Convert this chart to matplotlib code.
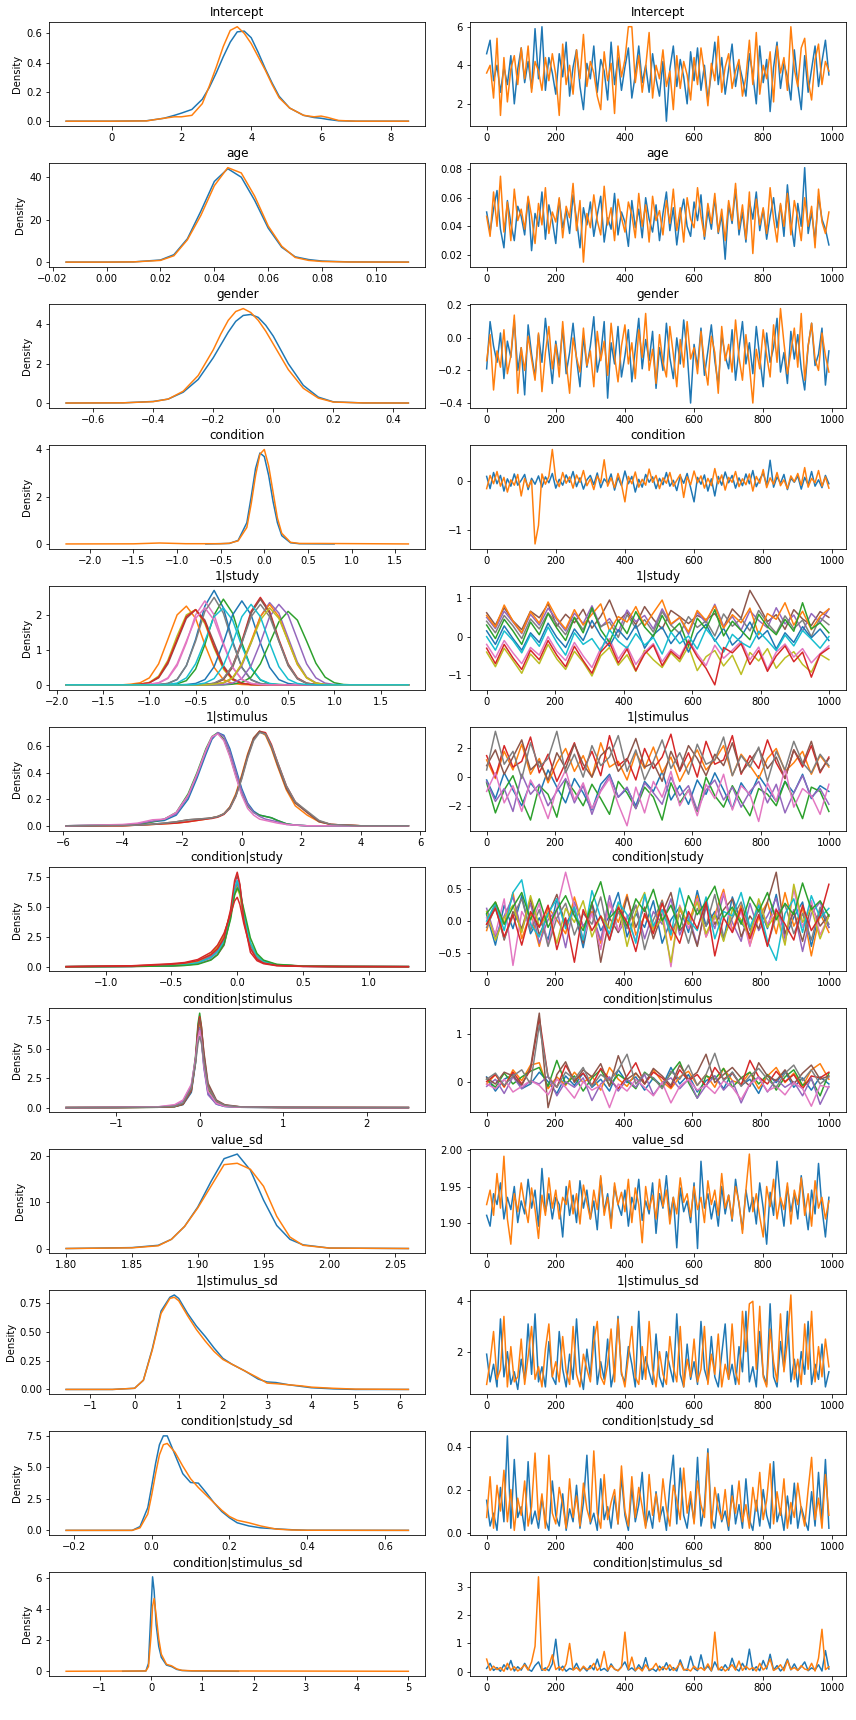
import numpy as np
import matplotlib
matplotlib.use("Agg")
import matplotlib.pyplot as plt
from matplotlib.ticker import MaxNLocator

# tab10 names
blue, orange, green, red, purple = "#1f77b4", "#ff7f0e", "#2ca02c", "#d62728", "#9467bd"
brown, pink, gray, olive, cyan = "#8c564b", "#e377c2", "#7f7f7f", "#bcbd22", "#17becf"

draws = np.arange(0, 1000, 10)      # thinned draw index, single parameters
draws_g = np.linspace(0, 999, 40)   # thinned draw index, grouped parameters

# ---------------- Intercept
int_kx = [-1.3, 0, 1, 1.5, 1.8, 2.0, 2.3, 2.6, 2.8, 3.0, 3.2, 3.4, 3.6, 3.8, 4.0, 4.2, 4.4, 4.6, 4.8, 5.1, 5.5, 5.8, 6.0, 6.2, 6.5, 7, 8.5]
int_kde_0 = [0, 0, 0.003, 0.02, 0.04, 0.055, 0.08, 0.15, 0.23, 0.33, 0.44, 0.54, 0.61, 0.615, 0.57, 0.47, 0.36, 0.26, 0.17, 0.09, 0.04, 0.025, 0.02, 0.012, 0.003, 0, 0]
int_kde_1 = [0, 0, 0.002, 0.02, 0.03, 0.03, 0.04, 0.12, 0.24, 0.37, 0.51, 0.62, 0.645, 0.60, 0.53, 0.44, 0.35, 0.25, 0.16, 0.09, 0.04, 0.03, 0.035, 0.025, 0.005, 0, 0]
int_tr_0 = [4.6, 5.3, 3.2, 4.0, 2.6, 3.9, 3.0, 4.5, 2.0, 3.8, 4.9, 3.1, 4.2, 2.8, 5.9, 3.3, 6.0, 2.7, 4.4, 3.6,
            2.5, 4.6, 3.4, 5.2, 2.4, 3.9, 4.8, 2.9, 1.7, 4.1, 3.3, 5.0, 2.6, 4.3, 3.7, 2.2, 5.2, 3.0, 4.4, 2.7,
            3.9, 4.9, 2.3, 3.5, 5.0, 3.1, 4.0, 2.6, 4.6, 3.3, 2.4, 4.2, 1.1, 3.8, 5.0, 2.9, 4.3, 3.4, 2.0, 4.7,
            3.2, 4.9, 2.7, 4.0, 2.2, 3.6, 5.2, 3.0, 4.4, 2.5, 3.8, 5.1, 2.9, 4.1, 3.3, 2.4, 4.6, 3.5, 2.0, 5.0,
            3.1, 4.3, 1.6, 3.9, 5.2, 2.8, 4.1, 3.4, 2.2, 4.8, 3.0, 1.7, 4.5, 2.6, 3.8, 5.0, 2.9, 4.2, 5.3, 3.5]
int_tr_1 = [3.6, 4.0, 2.3, 5.4, 1.4, 4.4, 2.1, 3.8, 4.5, 3.0, 4.9, 3.3, 5.0, 2.6, 4.2, 3.7, 2.7, 4.4, 3.2, 4.6,
            3.5, 1.4, 5.1, 3.0, 4.0, 2.5, 4.8, 3.3, 5.6, 2.9, 4.2, 3.6, 2.4, 1.7, 4.7, 3.2, 4.1, 1.5, 5.0, 3.4,
            4.3, 6.0, 6.0, 3.1, 4.5, 2.6, 3.9, 5.7, 2.3, 4.0, 3.3, 4.8, 2.9, 3.7, 1.7, 4.5, 2.8, 4.2, 3.5, 2.2,
            4.4, 3.0, 4.9, 3.6, 1.9, 4.1, 3.2, 5.5, 2.6, 3.9, 4.6, 2.8, 3.7, 4.3, 2.4, 3.4, 5.3, 3.0, 5.7, 2.5,
            4.0, 3.3, 4.7, 2.1, 5.0, 3.6, 4.4, 2.7, 6.0, 3.8, 2.9, 4.9, 5.4, 3.2, 2.2, 4.3, 5.1, 3.0, 4.2, 3.7]

# ---------------- age
age_kx = [-0.015, 0.0, 0.01, 0.02, 0.025, 0.03, 0.035, 0.04, 0.045, 0.05, 0.055, 0.06, 0.065, 0.07, 0.075, 0.08, 0.09, 0.112]
age_kde_0 = [0, 0, 0.1, 1.0, 3.5, 11, 24, 38, 44, 40, 29, 16, 7, 2.5, 1.2, 0.5, 0.1, 0]
age_kde_1 = [0, 0, 0.1, 0.8, 3.0, 10.5, 22, 36, 44.5, 42, 31, 17, 7.5, 2.2, 0.8, 0.3, 0.05, 0]
age_tr_0 = [0.050, 0.036, 0.052, 0.065, 0.038, 0.025, 0.058, 0.042, 0.030, 0.054, 0.047, 0.034, 0.060, 0.023, 0.049, 0.040, 0.064, 0.031, 0.055, 0.044,
            0.028, 0.059, 0.039, 0.051, 0.035, 0.062, 0.045, 0.025, 0.053, 0.041, 0.057, 0.033, 0.048, 0.061, 0.029, 0.046, 0.038, 0.063, 0.034, 0.050,
            0.043, 0.026, 0.058, 0.039, 0.052, 0.032, 0.060, 0.045, 0.036, 0.055, 0.030, 0.049, 0.064, 0.037, 0.053, 0.027, 0.047, 0.059, 0.040, 0.033,
            0.057, 0.044, 0.062, 0.031, 0.051, 0.038, 0.060, 0.035, 0.048, 0.017, 0.055, 0.042, 0.066, 0.034, 0.050, 0.029, 0.058, 0.045, 0.064, 0.037,
            0.052, 0.031, 0.047, 0.060, 0.039, 0.055, 0.033, 0.069, 0.043, 0.026, 0.056, 0.040, 0.081, 0.035, 0.050, 0.030, 0.061, 0.045, 0.038, 0.027]
age_tr_1 = [0.047, 0.033, 0.064, 0.040, 0.075, 0.036, 0.057, 0.030, 0.066, 0.044, 0.052, 0.038, 0.061, 0.047, 0.028, 0.056, 0.041, 0.067, 0.035, 0.050,
            0.043, 0.060, 0.032, 0.054, 0.046, 0.070, 0.037, 0.058, 0.015, 0.049, 0.039, 0.062, 0.044, 0.034, 0.068, 0.041, 0.053, 0.030, 0.059, 0.046,
            0.036, 0.057, 0.048, 0.032, 0.063, 0.040, 0.055, 0.029, 0.061, 0.044, 0.051, 0.034, 0.058, 0.042, 0.066, 0.037, 0.053, 0.029, 0.060, 0.045,
            0.039, 0.067, 0.047, 0.033, 0.056, 0.042, 0.063, 0.036, 0.052, 0.030, 0.058, 0.044, 0.070, 0.038, 0.055, 0.031, 0.064, 0.021, 0.059, 0.041,
            0.053, 0.035, 0.067, 0.045, 0.029, 0.056, 0.040, 0.063, 0.034, 0.058, 0.046, 0.030, 0.060, 0.040, 0.054, 0.025, 0.066, 0.043, 0.035, 0.050]

# ---------------- gender
gen_kx = [-0.69, -0.5, -0.4, -0.35, -0.3, -0.25, -0.2, -0.175, -0.15, -0.125, -0.1, -0.075, -0.05, -0.025, 0.0, 0.025, 0.05, 0.1, 0.15, 0.2, 0.3, 0.45]
gen_kde_0 = [0, 0.01, 0.08, 0.2, 0.55, 1.2, 2.3, 2.95, 3.6, 4.15, 4.45, 4.5, 4.35, 3.95, 3.4, 2.7, 2.0, 0.9, 0.3, 0.06, 0.005, 0]
gen_kde_1 = [0, 0.01, 0.07, 0.2, 0.6, 1.4, 2.7, 3.5, 4.2, 4.65, 4.8, 4.6, 4.2, 3.65, 3.0, 2.35, 1.7, 0.75, 0.25, 0.05, 0.005, 0]
gen_tr_0 = [-0.19, 0.10, -0.05, -0.15, 0.03, -0.25, -0.02, -0.12, 0.11, -0.20, -0.06, -0.35, 0.08, -0.10, -0.24, 0.02, -0.15, 0.12, -0.08, -0.28,
            -0.02, -0.17, 0.06, -0.22, -0.09, 0.09, -0.13, -0.30, 0.01, -0.18, -0.05, 0.13, -0.21, -0.10, 0.10, -0.37, -0.03, -0.16, 0.07, -0.24,
            -0.11, 0.05, -0.27, -0.07, 0.12, -0.19, -0.01, -0.14, 0.04, -0.31, -0.06, -0.20, 0.09, -0.12, -0.25, 0.00, -0.16, 0.11, -0.09, -0.40,
            -0.04, -0.18, 0.06, -0.23, -0.08, 0.08, -0.14, -0.29, 0.02, -0.11, -0.19, 0.05, -0.26, -0.07, 0.10, -0.16, -0.03, -0.22, 0.07, -0.12,
            -0.30, 0.03, -0.15, -0.06, 0.12, -0.21, -0.09, -0.28, 0.04, -0.13, 0.02, -0.19, -0.32, -0.05, 0.09, -0.17, -0.10, 0.06, -0.29, -0.08]
gen_tr_1 = [-0.14, 0.02, -0.32, -0.08, -0.18, 0.05, -0.22, -0.11, 0.14, -0.34, -0.06, -0.20, 0.01, -0.13, -0.26, 0.03, -0.33, -0.09, 0.07, -0.19,
            -0.04, -0.24, 0.10, -0.15, -0.34, 0.00, -0.12, -0.21, 0.06, -0.17, -0.08, -0.30, 0.04, -0.14, -0.02, -0.23, 0.09, -0.11, -0.27, -0.05,
            0.08, -0.16, -0.03, -0.25, 0.05, -0.12, 0.15, -0.20, -0.07, -0.28, 0.02, -0.15, -0.24, 0.07, -0.10, -0.30, -0.01, -0.18, 0.10, -0.13,
            -0.06, -0.22, 0.04, -0.16, -0.29, 0.01, -0.09, -0.34, 0.07, -0.14, -0.04, -0.21, 0.11, -0.12, -0.26, 0.02, -0.17, -0.40, -0.07, -0.19,
            0.05, -0.11, -0.24, 0.08, -0.15, 0.18, -0.03, -0.22, -0.09, 0.06, -0.18, 0.15, -0.26, -0.05, 0.09, -0.13, -0.20, 0.03, -0.11, -0.21]

# ---------------- condition
cond_kx_0 = [-0.67, -0.4, -0.3, -0.2, -0.15, -0.1, -0.05, 0.0, 0.05, 0.1, 0.15, 0.2, 0.3, 0.4, 0.8]
cond_kde_0 = [0, 0.02, 0.15, 0.9, 2.0, 3.2, 3.85, 3.7, 2.9, 1.8, 0.9, 0.35, 0.05, 0.01, 0]
cond_kx_1 = [-2.27, -1.5, -1.2, -0.9, -0.5, -0.4, -0.3, -0.2, -0.15, -0.1, -0.05, 0.0, 0.05, 0.1, 0.15, 0.2, 0.3, 0.4, 0.65, 1.65]
cond_kde_1 = [0, 0.005, 0.04, 0.01, 0.01, 0.03, 0.13, 0.7, 1.7, 2.9, 3.8, 4.0, 3.3, 2.2, 1.1, 0.45, 0.07, 0.02, 0.02, 0]
cond_tr_0 = [0.10, -0.15, 0.18, -0.05, 0.12, -0.20, 0.05, -0.10, 0.15, -0.08, 0.02, 0.14, -0.17, 0.06, -0.06, 0.11, -0.12, 0.09, -0.03, 0.16,
             -0.14, 0.04, -0.08, 0.13, -0.02, 0.20, -0.11, 0.07, -0.16, 0.03, 0.12, -0.07, 0.17, -0.13, 0.05, -0.04, 0.15, -0.18, 0.08, -0.09,
             0.21, -0.05, 0.10, -0.22, 0.04, -0.12, 0.14, -0.02, 0.09, -0.15, 0.06, -0.07, 0.18, -0.10, 0.02, -0.19, 0.11, -0.04, 0.16, -0.13,
             -0.42, 0.08, -0.06, 0.13, -0.20, 0.05, -0.30, 0.10, -0.08, 0.19, -0.03, 0.12, -0.14, 0.07, -0.09, 0.15, -0.05, 0.22, -0.11, 0.04,
             0.17, -0.08, 0.43, -0.12, 0.09, -0.04, 0.14, -0.17, 0.06, -0.02, 0.11, -0.16, 0.08, -0.07, 0.20, -0.10, 0.03, -0.13, 0.12, -0.05]
cond_tr_1 = [-0.15, 0.12, -0.05, 0.20, -0.10, 0.08, -0.22, 0.03, -0.08, 0.14, -0.30, 0.06, -0.12, 0.02, -1.28, -0.90, 0.15, -0.06, 0.10, 0.65,
             0.04, -0.11, 0.18, -0.04, 0.09, -0.14, 0.13, -0.02, 0.22, -0.09, 0.05, -0.17, 0.11, -0.03, 0.44, -0.10, 0.07, -0.13, 0.16, -0.06,
             -0.42, 0.10, -0.05, 0.19, -0.12, 0.04, -0.08, 0.25, -0.02, 0.12, -0.15, 0.07, -0.04, 0.18, -0.10, 0.02, 0.14, -0.33, 0.09, -0.07,
             0.21, -0.03, 0.11, -0.14, 0.06, -0.09, 0.26, -0.05, 0.13, -0.18, 0.08, -0.02, 0.20, -0.11, 0.05, -0.07, 0.15, -0.20, 0.10, -0.04,
             0.24, -0.13, 0.07, -0.06, 0.18, -0.09, 0.03, -0.15, 0.11, -0.01, 0.16, -0.08, 0.28, -0.12, 0.06, -0.03, 0.22, -0.10, 0.09, -0.14]

# ---------------- 1|study (10 levels x 2 chains in the density, thinned levels in the trace)
study_kx = np.round(np.arange(-1.9, 1.85, 0.1), 2)
study_kde = [
    [0] * 10 + [0.01, 0.04, 0.15, 0.55, 1.3, 2.25, 2.7, 2.2, 1.25, 0.5, 0.15, 0.04, 0.01] + [0] * 15,
    [0] * 7 + [0.02, 0.06, 0.2, 0.6, 1.3, 2.0, 2.25, 1.9, 1.15, 0.5, 0.15, 0.04, 0.01] + [0] * 18,
    [0] * 11 + [0.01, 0.03, 0.12, 0.45, 1.15, 2.0, 2.45, 2.05, 1.2, 0.48, 0.14, 0.03, 0.01] + [0] * 14,
    [0] * 15 + [0.01, 0.04, 0.16, 0.55, 1.25, 2.1, 2.5, 2.1, 1.3, 0.6, 0.2, 0.05, 0.01] + [0] * 10,
    [0] * 16 + [0.01, 0.05, 0.18, 0.55, 1.2, 1.95, 2.35, 2.05, 1.35, 0.65, 0.22, 0.06, 0.01] + [0] * 9,
    [0] * 8 + [0.02, 0.06, 0.2, 0.6, 1.25, 1.9, 2.15, 1.85, 1.2, 0.55, 0.18, 0.05, 0.01] + [0] * 17,
    [0] * 9 + [0.01, 0.05, 0.18, 0.55, 1.2, 2.0, 2.4, 2.0, 1.2, 0.5, 0.15, 0.04, 0.01] + [0] * 16,
    [0] * 10 + [0.01, 0.04, 0.16, 0.55, 1.25, 2.1, 2.5, 2.05, 1.2, 0.5, 0.14, 0.03, 0.01] + [0] * 15,
    [0] * 8 + [0.02, 0.07, 0.25, 0.7, 1.4, 2.0, 2.15, 1.75, 1.05, 0.45, 0.14, 0.04, 0.01] + [0] * 17,
    [0] * 11 + [0.01, 0.05, 0.2, 0.6, 1.25, 1.95, 2.2, 1.85, 1.1, 0.48, 0.15, 0.04, 0.01] + [0] * 14,
    [0] * 13 + [0.01, 0.04, 0.15, 0.52, 1.2, 2.0, 2.4, 2.0, 1.2, 0.5, 0.15, 0.04, 0.01] + [0] * 12,
    [0] * 16 + [0.02, 0.06, 0.2, 0.6, 1.25, 1.95, 2.3, 1.95, 1.25, 0.58, 0.2, 0.05, 0.01] + [0] * 9,
    [0] * 18 + [0.02, 0.07, 0.22, 0.6, 1.2, 1.8, 2.1, 1.85, 1.25, 0.62, 0.22, 0.06, 0.01] + [0] * 7,
    [0] * 8 + [0.02, 0.06, 0.22, 0.65, 1.3, 1.95, 2.15, 1.8, 1.1, 0.5, 0.16, 0.04, 0.01] + [0] * 17,
    [0] * 17 + [0.01, 0.05, 0.18, 0.55, 1.2, 1.95, 2.3, 2.0, 1.3, 0.6, 0.2, 0.05, 0.01] + [0] * 8,
    [0] * 15 + [0.01, 0.04, 0.15, 0.5, 1.2, 2.05, 2.45, 2.05, 1.25, 0.55, 0.17, 0.04, 0.01] + [0] * 10,
    [0] * 9 + [0.02, 0.06, 0.2, 0.6, 1.25, 1.9, 2.2, 1.85, 1.15, 0.5, 0.16, 0.04, 0.01] + [0] * 16,
    [0] * 15 + [0.01, 0.05, 0.18, 0.55, 1.2, 1.95, 2.3, 1.95, 1.25, 0.58, 0.18, 0.05, 0.01] + [0] * 10,
    [0] * 16 + [0.02, 0.06, 0.2, 0.6, 1.2, 1.85, 2.2, 1.9, 1.25, 0.6, 0.2, 0.05, 0.01] + [0] * 9,
    [0] * 14 + [0.01, 0.05, 0.18, 0.55, 1.2, 1.95, 2.3, 1.95, 1.2, 0.52, 0.16, 0.04, 0.01] + [0] * 11,
]
study_kde_colors = [blue, orange, green, red, purple, brown, pink, gray, olive, cyan] * 2
study_tr = [
    [0.62, 0.30, 0.75, 0.41, 0.18, 0.66, 0.49, 0.85, 0.27, 0.58, 0.36, 0.71, 0.22, 0.53, 0.95, 0.40, 0.63, 0.31, 0.78, 0.45,
     0.20, 0.68, 0.52, 0.34, 0.55, 0.44, 0.60, 0.25, 0.72, 0.48, 1.20, 0.81, 0.39, 0.57, 0.19, 0.70, 0.46, 0.29, 0.65, 0.50],
    [0.50, 0.21, 0.66, 0.38, 0.08, 0.58, 0.30, 0.74, 0.44, 0.15, 0.61, 0.34, 0.80, 0.25, 0.47, 0.12, 0.69, 0.39, 0.55, 0.20,
     0.72, 0.31, 0.49, 0.06, 0.63, 0.36, 0.84, 0.27, 0.52, 0.17, 0.67, 0.42, 0.23, 0.75, 0.33, 0.56, 0.14, 0.60, 0.37, 0.71],
    [0.40, 0.10, 0.55, 0.28, -0.05, 0.46, 0.20, 0.62, 0.33, 0.05, 0.50, 0.18, 0.70, 0.26, 0.38, -0.02, 0.57, 0.22, 0.44, 0.12,
     0.65, 0.30, 0.08, 0.52, 0.24, 0.41, 0.02, 0.59, 0.27, 0.47, 0.15, 0.68, 0.35, 0.09, 0.54, 0.21, 0.43, 0.00, 0.49, 0.31],
    [-0.40, -0.78, -0.30, -0.62, -0.95, -0.45, -0.70, -0.20, -0.58, -0.85, -0.38, -0.66, -1.02, -0.50, -0.28, -0.74, -0.47, -0.90, -0.35, -0.60,
     -0.80, -0.42, -0.65, -0.25, -0.88, -0.52, -0.36, -0.76, -0.48, -0.98, -0.41, -0.63, -0.31, -0.82, -0.55, -0.39, -0.72, -0.92, -0.46, -0.60],
    [-0.20, -0.55, -0.10, -0.42, -0.70, -0.28, -0.48, 0.00, -0.38, -0.62, -0.15, -0.50, -0.80, -0.30, -0.05, -0.58, -0.25, -0.72, -0.40, -0.18,
     -0.65, -0.33, -0.52, -0.08, -0.45, -0.75, -0.22, -0.56, -0.35, -0.12, -0.60, -0.27, -0.85, -0.40, -0.19, -0.53, -0.31, -0.68, -0.44, -0.24],
    [0.15, -0.20, 0.28, -0.05, -0.35, 0.10, -0.15, 0.35, -0.02, -0.28, 0.20, -0.10, 0.42, 0.02, -0.25, 0.18, -0.08, 0.30, -0.30, 0.05,
     0.25, -0.18, 0.12, -0.40, 0.08, 0.32, -0.12, 0.22, -0.22, 0.00, 0.38, -0.06, 0.16, -0.32, 0.10, -0.15, 0.26, -0.03, 0.20, -0.10],
    [0.55, 0.25, 0.82, 0.40, 0.10, 0.65, 0.35, 0.90, 0.48, 0.20, 0.70, 0.30, 0.58, 0.85, 0.15, 0.52, 0.38, 0.78, 0.28, 0.62,
     0.95, 0.33, 0.50, 0.12, 0.68, 0.42, 0.80, 0.22, 0.57, 0.36, 0.74, 0.05, 0.60, 0.45, 0.88, 0.30, 0.66, 0.18, 0.53, 0.72],
    [0.30, -0.05, 0.45, 0.15, -0.20, 0.38, 0.05, 0.60, 0.22, -0.10, 0.50, 0.10, 0.75, 0.18, -0.15, 0.42, 0.08, 0.65, 0.25, 0.00,
     0.55, 0.12, 0.35, -0.25, 0.48, 0.20, 0.70, 0.02, 0.40, 0.16, -0.08, 0.58, 0.26, 0.05, 0.45, 0.14, 0.88, 0.20, 0.36, 0.10],
    [0.00, -0.35, 0.15, -0.10, -0.42, 0.05, -0.25, 0.25, -0.15, -0.48, 0.10, -0.20, -0.05, -0.38, 0.18, -0.12, -0.30, 0.08, -0.22, -0.02,
     -0.45, 0.12, -0.18, 0.02, -0.32, 0.20, -0.08, -0.40, 0.06, -0.15, -0.28, 0.14, -0.10, -0.36, 0.04, -0.24, 0.16, -0.06, -0.30, 0.00],
    [-0.30, -0.70, -0.20, -0.55, -0.85, -0.35, -0.60, -0.10, -0.48, -0.78, -0.25, -0.62, -0.95, -0.40, -0.15, -0.68, -0.32, -0.88, -0.45, -0.22,
     -0.75, -0.38, -0.58, -0.12, -0.52, -0.82, -1.25, -0.28, -0.42, -0.18, -0.72, -0.36, -0.90, -0.50, -0.24, -0.65, -0.40, -1.05, -0.46, -0.30],
]
study_tr_colors = [brown, purple, gray, olive, pink, blue, orange, green, cyan, red]

# ---------------- 1|stimulus
stim_kx = [-5.9, -4.0, -3.5, -3.0, -2.6, -2.2, -1.8, -1.5, -1.2, -1.0, -0.8, -0.6, -0.4, -0.2, 0.0,
           0.2, 0.4, 0.6, 0.8, 1.0, 1.2, 1.5, 1.8, 2.2, 2.6, 3.0, 4.0, 5.6]
stim_kde = [
    [0, 0.005, 0.01, 0.03, 0.04, 0.08, 0.2, 0.36, 0.54, 0.65, 0.70, 0.68, 0.58, 0.43, 0.28, 0.17, 0.11, 0.08, 0.07, 0.06, 0.04, 0.015, 0.005, 0, 0, 0, 0, 0],
    [0, 0, 0.005, 0.01, 0.015, 0.02, 0.03, 0.04, 0.05, 0.06, 0.07, 0.09, 0.14, 0.24, 0.38, 0.54, 0.66, 0.71, 0.68, 0.58, 0.45, 0.27, 0.15, 0.08, 0.03, 0.01, 0, 0],
    [0, 0.005, 0.01, 0.03, 0.05, 0.1, 0.24, 0.4, 0.58, 0.67, 0.70, 0.65, 0.53, 0.38, 0.24, 0.15, 0.1, 0.08, 0.07, 0.06, 0.04, 0.015, 0.005, 0, 0, 0, 0, 0],
    [0, 0, 0.005, 0.01, 0.015, 0.02, 0.03, 0.04, 0.05, 0.055, 0.065, 0.085, 0.13, 0.22, 0.36, 0.52, 0.65, 0.71, 0.70, 0.61, 0.48, 0.30, 0.18, 0.1, 0.035, 0.01, 0, 0],
    [0, 0.005, 0.015, 0.035, 0.05, 0.09, 0.22, 0.38, 0.56, 0.66, 0.70, 0.67, 0.56, 0.41, 0.26, 0.16, 0.1, 0.07, 0.05, 0.04, 0.03, 0.01, 0.005, 0, 0, 0, 0, 0],
    [0, 0.002, 0.005, 0.012, 0.02, 0.03, 0.045, 0.05, 0.055, 0.06, 0.07, 0.09, 0.14, 0.23, 0.37, 0.53, 0.66, 0.71, 0.69, 0.59, 0.46, 0.28, 0.17, 0.1, 0.03, 0.01, 0, 0],
    [0, 0.01, 0.02, 0.045, 0.05, 0.1, 0.23, 0.39, 0.57, 0.67, 0.69, 0.64, 0.52, 0.37, 0.23, 0.13, 0.08, 0.05, 0.04, 0.03, 0.02, 0.01, 0.005, 0, 0, 0, 0, 0],
    [0, 0.002, 0.005, 0.012, 0.02, 0.03, 0.045, 0.05, 0.055, 0.06, 0.07, 0.09, 0.13, 0.22, 0.35, 0.51, 0.64, 0.70, 0.69, 0.60, 0.48, 0.30, 0.18, 0.11, 0.04, 0.01, 0, 0],
]
stim_colors = [blue, orange, green, red, purple, brown, pink, gray]
stim_tr = [
    [-0.2, -1.5, 0.3, -0.9, -2.0, -0.4, -1.2, 0.5, -0.7, -1.8, -0.1, -1.1, -2.3, -0.5, 0.2, -1.4, -0.8, -2.0, -0.3, -1.0,
     0.4, -1.6, -0.6, -1.9, -0.2, -1.2, 0.3, -0.9, -2.2, -0.4, -1.3, 0.1, -0.8, -1.7, -0.3, -1.1, 0.2, -1.5, -0.6, -1.0],
    [1.2, -0.1, 1.8, 0.5, 2.3, 0.2, 1.3, -0.4, 1.0, 2.0, 0.4, 1.5, 0.0, 2.4, 0.7, 1.1, -0.2, 1.7, 0.6, 2.1,
     0.3, 1.4, -0.3, 0.9, 1.9, 0.5, 1.2, 2.2, 0.1, 1.6, 0.8, -0.1, 1.3, 2.0, 0.4, 1.0, 1.8, 0.2, 1.5, 0.7],
    [-0.4, -2.5, -0.9, 0.1, -1.6, -3.0, -0.6, -1.2, -2.8, -0.2, -1.0, -2.0, -0.5, -1.5, -2.6, -0.3, -1.1, -2.2, -0.7, -1.4,
     -3.0, -0.4, -1.8, -0.9, -2.4, 0.0, -1.3, -2.1, -0.6, -1.7, -2.7, -0.8, -1.2, -2.0, -0.3, -1.5, -2.9, -0.7, -1.0, -2.4],
    [1.5, 0.0, 2.2, 0.7, 1.1, 2.8, 0.3, 1.6, -0.3, 1.0, 2.4, 0.5, 1.8, 0.1, 2.9, 0.8, 1.3, -0.2, 2.0, 0.6,
     1.4, 3.0, 0.4, 1.7, 0.0, 2.5, 0.9, 1.2, 2.9, 0.2, 1.5, 0.6, 2.6, 1.0, -0.1, 1.9, 0.7, 2.2, 0.3, 1.4],
    [-0.3, -1.7, -0.8, -2.4, 0.2, -1.2, -0.5, -2.0, -1.0, -0.1, -1.8, -0.6, -2.6, -0.9, 0.1, -1.4, -0.7, -2.2, -0.4, -1.1,
     -1.9, 0.0, -1.3, -0.6, -2.3, -0.9, -0.2, -1.6, -0.7, -2.1, -1.0, -0.3, -1.8, -0.5, -2.5, -1.1, 0.1, -1.4, -0.8, -1.9],
    [0.8, 1.9, 0.2, 1.4, 2.6, 0.5, 1.1, -0.2, 1.7, 0.6, 2.3, 0.9, 0.0, 1.5, 2.1, 0.4, 1.2, 2.7, 0.7, 1.0,
     -0.3, 1.8, 0.5, 2.2, 1.3, 0.1, 1.6, 0.8, 2.4, 0.3, 1.1, 2.0, 0.6, 1.4, -0.1, 1.9, 0.9, 2.5, 0.4, 1.3],
    [-1.0, 0.3, -1.8, -0.6, -2.4, -0.2, -1.3, -2.9, -0.8, 0.5, -1.6, -0.4, -2.2, -1.0, -0.1, -1.9, -3.4, -0.7, -2.5, -0.3,
     -1.4, 0.4, -2.0, -0.9, -2.7, -0.5, -1.5, 0.2, -2.3, -0.6, -1.2, -3.1, -0.4, -1.7, 0.6, -2.1, -0.8, -1.3, -2.6, -0.5],
    [0.5, 3.2, 0.9, 1.8, -0.1, 2.4, 0.7, 1.3, 3.2, 0.3, 1.6, 0.0, 2.2, 0.8, 1.4, 2.9, 0.4, 1.9, -0.2, 1.1,
     2.6, 0.6, 1.7, 0.2, 2.3, 0.9, 1.2, 2.8, 0.1, 1.5, 0.7, 2.1, -0.3, 1.8, 0.5, 2.5, 1.0, 0.3, 1.6, 0.8],
]

# ---------------- condition|study
cs_kx = [-1.3, -0.8, -0.5, -0.4, -0.3, -0.2, -0.15, -0.1, -0.05, -0.02, 0.0, 0.02, 0.05, 0.1, 0.15, 0.2, 0.3, 0.5, 0.8, 1.3]
cs_kde = [
    [0, 0.03, 0.1, 0.18, 0.35, 0.8, 1.3, 2.2, 4.4, 6.7, 7.4, 6.5, 4.0, 1.6, 0.7, 0.35, 0.12, 0.03, 0.01, 0],
    [0, 0.04, 0.12, 0.22, 0.45, 1.0, 1.6, 2.6, 4.6, 6.4, 6.9, 6.2, 4.1, 1.8, 0.8, 0.4, 0.15, 0.04, 0.01, 0],
    [0, 0.03, 0.1, 0.2, 0.4, 0.9, 1.4, 2.4, 4.5, 6.5, 7.1, 6.3, 4.1, 1.7, 0.75, 0.38, 0.13, 0.03, 0.01, 0],
    [0, 0.02, 0.06, 0.12, 0.25, 0.6, 1.0, 1.8, 4.2, 6.8, 7.6, 6.8, 4.3, 1.7, 0.8, 0.42, 0.15, 0.04, 0.01, 0],
    [0, 0.03, 0.08, 0.15, 0.3, 0.7, 1.2, 2.0, 4.3, 6.6, 7.3, 6.5, 4.2, 1.8, 0.85, 0.45, 0.18, 0.05, 0.02, 0.01],
    [0, 0.03, 0.09, 0.17, 0.35, 0.8, 1.3, 2.2, 4.4, 6.4, 7.0, 6.3, 4.2, 1.8, 0.8, 0.4, 0.14, 0.04, 0.01, 0],
    [0, 0.04, 0.12, 0.22, 0.45, 1.05, 1.7, 2.7, 4.5, 6.0, 6.5, 6.0, 4.2, 2.0, 0.9, 0.45, 0.16, 0.04, 0.01, 0],
    [0, 0.03, 0.09, 0.16, 0.33, 0.75, 1.25, 2.1, 4.3, 6.5, 7.2, 6.5, 4.4, 2.0, 0.9, 0.45, 0.16, 0.04, 0.01, 0],
    [0, 0.02, 0.06, 0.1, 0.2, 0.55, 1.0, 1.9, 4.0, 6.0, 6.6, 6.2, 4.8, 2.4, 1.1, 0.55, 0.2, 0.05, 0.02, 0.01],
    [0, 0.08, 0.25, 0.35, 0.6, 1.2, 1.8, 2.8, 4.4, 5.5, 5.8, 5.2, 3.6, 1.5, 0.6, 0.3, 0.1, 0.03, 0.01, 0],
    [0, 0.06, 0.2, 0.3, 0.5, 1.0, 1.5, 2.4, 4.8, 7.2, 7.9, 6.9, 3.9, 1.2, 0.5, 0.25, 0.08, 0.02, 0.01, 0],
]
cs_kde_colors = [blue, orange, purple, brown, pink, gray, olive, cyan, green, red, red]
cs_tr = [
    [0.10, -0.38, 0.25, -0.12, 0.40, -0.20, 0.05, -0.30, 0.35, -0.05, 0.18, -0.42, 0.28, -0.15, 0.08, 0.45, -0.25, 0.12, -0.10, 0.32,
     -0.35, 0.02, 0.22, -0.18, 0.48, -0.08, 0.15, -0.30, 0.38, -0.02, -0.22, 0.26, -0.12, 0.42, -0.28, 0.06, 0.30, -0.40, 0.18, -0.10],
    [-0.15, 0.30, -0.05, 0.45, -0.28, 0.12, -0.40, 0.22, 0.02, -0.20, 0.38, -0.10, 0.15, -0.35, 0.28, -0.02, 0.42, -0.22, 0.08, -0.12,
     0.33, -0.30, 0.18, -0.05, 0.40, -0.25, 0.10, 0.50, -0.15, 0.25, -0.38, 0.05, 0.30, -0.20, 0.45, -0.08, 0.20, -0.55, 0.12, -0.18],
    [0.20, -0.25, 0.08, 0.38, -0.15, 0.28, -0.35, 0.02, 0.18, -0.42, 0.30, -0.08, 0.12, -0.30, 0.40, -0.18, 0.05, 0.25, -0.28, 0.15,
     -0.05, 0.35, -0.22, 0.10, -0.38, 0.22, -0.12, 0.42, -0.02, -0.32, 0.28, -0.15, 0.08, 0.36, -0.25, 0.18, -0.48, 0.12, 0.30, -0.10],
    [-0.05, 0.25, -0.30, 0.15, -0.12, 0.35, -0.22, 0.10, 0.42, -0.08, 0.20, -0.35, 0.30, -0.65, 0.05, -0.18, 0.38, -0.10, 0.22, -0.28,
     0.12, 0.45, -0.15, 0.02, -0.40, 0.28, -0.05, 0.18, 0.35, -0.25, 0.08, -0.12, 0.30, 0.77, -0.20, 0.15, -0.32, 0.25, -0.08, 0.10],
    [0.05, -0.20, 0.35, -0.70, 0.15, -0.10, 0.28, -0.38, 0.20, 0.77, 0.22, -0.28, 0.12, -0.45, 0.30, -0.15, 0.08, -0.32, 0.40, -0.08,
     0.18, -0.72, 0.25, -0.12, 0.35, -0.25, 0.05, 0.45, -0.18, 0.15, -0.40, 0.28, -0.05, 0.20, -0.35, 0.50, -0.10, 0.32, -0.22, 0.08],
    [-0.10, 0.22, -0.28, 0.08, 0.35, -0.15, 0.18, -0.40, 0.05, 0.28, -0.22, 0.12, -0.05, 0.38, -0.30, 0.15, -0.12, 0.25, -0.45, 0.02,
     0.32, -0.18, 0.10, -0.35, 0.20, -0.08, 0.42, -0.25, 0.05, 0.30, -0.15, 0.18, -0.38, 0.08, 0.26, -0.20, 0.12, -0.30, 0.22, -0.05],
    [0.15, -0.30, 0.05, 0.25, -0.18, 0.40, -0.08, 0.12, -0.35, 0.20, -0.02, 0.32, -0.25, 0.08, -0.12, 0.28, -0.40, 0.15, 0.45, -0.15,
     0.05, -0.65, 0.22, -0.05, 0.30, -0.20, 0.10, -0.32, 0.18, 0.02, -0.25, 0.35, -0.10, 0.12, -0.38, 0.58, -0.02, 0.20, -0.28, 0.08],
    [0.00, 0.28, -0.15, 0.45, 0.65, -0.05, -0.25, 0.12, 0.35, -0.12, 0.22, -0.30, 0.48, 0.05, -0.20, 0.30, 0.10, -0.35, 0.42, -0.08,
     0.18, -0.22, 0.52, 0.02, -0.15, 0.38, -0.28, 0.15, 0.08, 0.45, -0.10, 0.25, -0.32, -0.62, 0.12, 0.35, -0.18, 0.40, 0.05, 0.20],
    [0.12, 0.30, -0.05, 0.22, 0.45, 0.02, 0.35, -0.10, 0.18, 0.40, 0.08, -0.15, 0.28, 0.62, 0.05, 0.20, -0.08, 0.35, 0.15, 0.50,
     0.00, 0.25, -0.12, 0.40, 0.10, 0.30, 0.55, 0.05, 0.22, -0.05, 0.38, 0.15, 0.45, 0.02, 0.28, 0.10, 0.60, 0.18, 0.32, 0.08],
    [-0.05, 0.20, -0.25, 0.10, -0.38, 0.15, -0.10, 0.25, -0.45, 0.05, -0.65, 0.18, -0.15, 0.08, -0.30, 0.22, -0.02, -0.48, 0.12, -0.20,
     0.28, -0.08, -0.35, 0.15, -0.12, 0.30, -0.55, 0.05, -0.18, 0.20, -0.28, 0.10, -0.40, 0.18, -0.05, -0.30, 0.25, -0.15, 0.08, 0.58],
]
cs_tr_colors = [blue, orange, purple, brown, pink, gray, olive, cyan, green, red]

# ---------------- condition|stimulus
cst_kx = [-1.6, -1.0, -0.5, -0.3, -0.2, -0.1, -0.05, -0.02, 0.0, 0.02, 0.05, 0.1, 0.2, 0.3, 0.5, 1.0, 1.5, 2.5]
cst_kde = [
    [0, 0.01, 0.03, 0.08, 0.25, 1.3, 3.8, 6.2, 6.9, 5.9, 3.6, 1.2, 0.3, 0.1, 0.03, 0.01, 0, 0],
    [0, 0.01, 0.03, 0.1, 0.3, 1.5, 4.0, 6.6, 7.4, 6.6, 4.3, 1.6, 0.45, 0.15, 0.04, 0.01, 0.01, 0],
    [0, 0.01, 0.03, 0.08, 0.3, 1.7, 4.4, 7.2, 8.1, 7.0, 4.2, 1.5, 0.4, 0.12, 0.03, 0.01, 0, 0],
    [0, 0.01, 0.04, 0.1, 0.3, 1.5, 4.1, 6.9, 7.8, 7.0, 4.6, 1.9, 0.55, 0.2, 0.05, 0.01, 0.01, 0],
    [0, 0.02, 0.06, 0.2, 0.55, 1.9, 4.2, 6.3, 6.8, 5.8, 3.4, 1.1, 0.3, 0.1, 0.03, 0.01, 0, 0],
    [0, 0.01, 0.03, 0.1, 0.3, 1.4, 3.9, 6.7, 7.6, 6.9, 4.8, 2.1, 0.65, 0.25, 0.06, 0.02, 0.01, 0],
    [0, 0.02, 0.07, 0.25, 0.65, 2.0, 4.1, 6.0, 6.6, 5.8, 3.7, 1.4, 0.38, 0.12, 0.03, 0.01, 0, 0],
    [0, 0.01, 0.04, 0.12, 0.4, 1.7, 3.8, 5.5, 6.1, 5.6, 4.0, 1.8, 0.55, 0.2, 0.05, 0.02, 0.01, 0],
]
cst_tr = [
    [0.10, -0.20, 0.05, 0.15, -0.15, -0.05, 0.20, 0.00, -0.25, 0.12, -0.08, 0.18, -0.12, 0.05, -0.20, 0.25, -0.02, 0.10, -0.18, 0.08,
     -0.10, 0.30, -0.05, 0.15, -0.22, 0.02, 0.12, -0.15, 0.20, -0.08, 0.05, -0.25, 0.15, -0.02, 0.22, -0.12, 0.08, -0.18, 0.10, -0.05],
    [-0.05, 0.15, -0.12, 0.25, 0.02, 0.35, 0.40, -0.15, 0.10, -0.08, 0.20, -0.02, 0.12, -0.18, 0.30, 0.05, -0.10, 0.18, -0.05, 0.25,
     0.00, -0.15, 0.10, 0.22, -0.08, 0.15, -0.12, 0.28, 0.02, -0.05, 0.20, -0.15, 0.12, 0.30, -0.02, 0.18, -0.10, 0.25, 0.38, 0.05],
    [0.05, -0.12, 0.18, -0.05, 0.10, 0.22, 0.30, -0.10, 0.45, -0.05, 0.12, -0.20, 0.08, 0.25, -0.08, 0.15, 0.02, -0.15, 0.20, 0.05,
     -0.10, 0.18, 0.42, -0.02, -0.35, 0.12, 0.05, 0.28, -0.12, 0.08, 0.20, -0.05, 0.15, -0.18, 0.10, 0.25, -0.08, 0.05, -0.30, 0.18],
    [0.00, 0.15, -0.10, 0.20, -0.05, 0.25, 1.35, 0.10, -0.12, 0.35, 0.02, 0.18, -0.08, 0.28, 0.05, -0.15, 0.12, 0.40, -0.05, 0.20,
     0.08, -0.12, 0.25, 0.02, 0.15, -0.10, 0.30, 0.05, 0.18, -0.08, 0.45, 0.10, -0.05, 0.22, 0.00, 0.15, -0.15, 0.12, 0.08, 0.20],
    [-0.10, 0.05, -0.25, 0.10, -0.15, 0.02, -0.05, 0.12, -0.30, 0.00, -0.12, 0.08, -0.40, -0.05, 0.10, -0.20, 0.05, -0.12, 0.15, -0.28,
     -0.02, 0.08, -0.15, 0.05, -0.35, -0.08, 0.12, -0.18, 0.02, -0.45, -0.05, 0.10, -0.22, 0.05, -0.12, 0.00, -0.30, 0.08, -0.48, -0.10],
    [0.08, -0.05, 0.20, 0.12, -0.08, 0.30, 1.45, -0.55, 0.15, 0.42, -0.02, 0.25, 0.10, 0.38, -0.10, 0.55, 0.05, 0.18, -0.05, 0.28,
     0.12, -0.08, 0.35, 0.05, 0.20, 0.58, -0.02, 0.15, 0.30, 0.08, -0.10, 0.40, 0.12, 0.02, 0.25, -0.05, 0.18, 0.35, 0.05, 0.12],
    [-0.05, -0.15, 0.05, -0.22, -0.10, 0.02, -0.08, -0.28, 0.05, -0.12, -0.35, 0.00, -0.18, -0.08, -0.55, -0.05, -0.20, 0.05, -0.12, -0.30,
     -0.02, -0.45, -0.10, 0.05, -0.18, -0.08, -0.25, 0.02, -0.12, -0.38, -0.05, 0.08, -0.20, -0.10, -0.28, -0.02, -0.15, -0.52, -0.08, -0.12],
    [0.05, 0.18, -0.08, 0.12, 0.25, -0.05, 1.20, 0.10, -0.12, 0.20, 0.05, 0.30, -0.10, 0.15, 0.02, 0.25, 0.58, -0.05, 0.18, 0.08,
     -0.15, 0.22, 0.05, 0.35, -0.08, 0.15, 0.60, 0.02, 0.20, -0.10, 0.12, 0.28, 0.05, -0.12, 0.18, 0.35, 0.02, 0.25, -0.05, 0.10],
]

# ---------------- value_sd
vsd_kx = [1.80, 1.85, 1.87, 1.88, 1.89, 1.90, 1.91, 1.92, 1.93, 1.94, 1.95, 1.96, 1.97, 1.98, 2.0, 2.06]
vsd_kde_0 = [0, 0.2, 0.7, 2.0, 4.8, 9.0, 14.5, 19.5, 20.5, 17, 10.5, 5.0, 2.0, 0.8, 0.1, 0]
vsd_kde_1 = [0, 0.15, 0.6, 2.0, 4.8, 8.8, 13.5, 18.2, 18.5, 17.2, 13.5, 7.0, 2.5, 0.7, 0.1, 0]
vsd_tr_0 = [1.910, 1.895, 1.940, 1.925, 1.955, 1.905, 1.935, 1.918, 1.950, 1.900, 1.930, 1.912, 1.960, 1.920, 1.945, 1.895, 1.975, 1.915, 1.940, 1.905,
            1.935, 1.925, 1.880, 1.950, 1.910, 1.938, 1.900, 1.958, 1.920, 1.945, 1.905, 1.930, 1.890, 1.962, 1.915, 1.940, 1.900, 1.950, 1.925, 1.910,
            1.945, 1.895, 1.935, 1.918, 1.960, 1.903, 1.930, 1.912, 1.955, 1.885, 1.940, 1.920, 1.965, 1.908, 1.935, 1.865, 1.948, 1.915, 1.930, 1.900,
            1.955, 1.864, 1.985, 1.920, 1.940, 1.905, 1.930, 1.895, 1.950, 1.912, 1.938, 1.902, 1.960, 1.925, 1.890, 1.945, 1.915, 1.935, 1.898, 1.955,
            1.920, 1.870, 1.942, 1.910, 1.985, 1.930, 1.895, 1.950, 1.915, 1.940, 1.905, 1.965, 1.925, 1.890, 1.945, 1.912, 1.982, 1.920, 1.880, 1.935]
vsd_tr_1 = [1.925, 1.945, 1.910, 1.968, 1.920, 1.992, 1.905, 1.870, 1.940, 1.915, 1.955, 1.925, 1.900, 1.948, 1.918, 1.878, 1.938, 1.910, 1.962, 1.920,
            1.945, 1.905, 1.935, 1.925, 1.958, 1.912, 1.940, 1.898, 1.952, 1.928, 1.905, 1.945, 1.918, 1.965, 1.910, 1.935, 1.892, 1.955, 1.925, 1.942,
            1.915, 1.960, 1.900, 1.948, 1.925, 1.872, 1.950, 1.918, 1.938, 1.905, 1.960, 1.922, 1.945, 1.898, 1.935, 1.912, 1.962, 1.928, 1.940, 1.908,
            1.950, 1.918, 1.935, 1.900, 1.958, 1.925, 1.945, 1.910, 1.968, 1.920, 1.938, 1.905, 1.950, 1.928, 1.885, 1.945, 1.995, 1.915, 1.940, 1.908,
            1.880, 1.950, 1.922, 1.960, 1.905, 1.935, 1.918, 1.955, 1.898, 1.945, 1.925, 1.962, 1.910, 1.940, 1.895, 1.958, 1.920, 1.935, 1.905, 1.930]

# ---------------- 1|stimulus_sd
ssd_kx = [-1.55, -0.5, 0, 0.2, 0.4, 0.6, 0.8, 0.9, 1.0, 1.2, 1.4, 1.6, 1.8, 2.0, 2.2, 2.5, 2.8, 3.0, 3.2, 3.5, 3.8, 4.0, 4.5, 5.0, 6.2]
ssd_kde_0 = [0, 0, 0.01, 0.08, 0.35, 0.68, 0.80, 0.82, 0.79, 0.66, 0.55, 0.46, 0.36, 0.27, 0.22, 0.16, 0.09, 0.065, 0.06, 0.04, 0.025, 0.015, 0.005, 0, 0]
ssd_kde_1 = [0, 0, 0.01, 0.08, 0.34, 0.66, 0.79, 0.80, 0.77, 0.64, 0.52, 0.42, 0.33, 0.26, 0.22, 0.16, 0.10, 0.055, 0.05, 0.04, 0.03, 0.02, 0.01, 0.003, 0]
ssd_tr_0 = [1.9, 0.8, 1.5, 0.6, 3.3, 1.0, 2.0, 0.7, 1.2, 0.5, 1.7, 0.9, 3.1, 1.1, 3.5, 0.8, 1.4, 0.6, 2.4, 1.0,
            0.7, 2.8, 1.3, 0.6, 1.9, 0.9, 3.3, 1.2, 0.5, 2.1, 1.0, 3.0, 0.7, 1.6, 0.9, 2.5, 0.6, 1.3, 3.4, 1.1,
            0.8, 2.2, 1.5, 0.6, 3.6, 0.9, 1.8, 1.2, 0.7, 2.7, 1.0, 0.6, 2.0, 1.4, 0.8, 3.5, 1.1, 0.6, 2.3, 0.9,
            1.6, 0.7, 3.2, 1.3, 0.8, 2.6, 1.0, 0.6, 1.9, 3.1, 0.9, 1.5, 0.7, 2.2, 1.2, 3.6, 0.8, 1.4, 0.6, 2.8,
            1.1, 0.7, 3.9, 1.0, 0.6, 2.4, 1.3, 3.6, 0.8, 1.7, 0.6, 2.0, 1.1, 3.2, 0.7, 1.5, 0.9, 2.3, 0.6, 1.2]
ssd_tr_1 = [0.7, 1.6, 2.8, 0.9, 1.3, 3.4, 0.6, 2.2, 0.8, 1.0, 2.5, 0.7, 1.8, 3.0, 0.9, 1.4, 0.6, 2.1, 3.1, 1.0,
            1.6, 0.8, 2.6, 1.2, 0.7, 3.0, 1.1, 0.6, 1.9, 1.3, 0.8, 2.4, 3.2, 1.0, 0.7, 1.5, 2.9, 0.8, 3.3, 1.2,
            0.6, 1.8, 3.0, 1.0, 0.7, 2.2, 0.9, 3.2, 1.3, 0.6, 2.0, 1.1, 0.7, 2.6, 1.4, 0.8, 3.0, 0.6, 1.7, 1.0,
            2.5, 0.8, 1.3, 3.0, 0.7, 1.9, 1.1, 2.7, 0.6, 1.5, 0.9, 3.1, 1.2, 0.7, 3.6, 2.0, 3.9, 4.0, 1.3, 3.8,
            1.0, 0.6, 2.9, 1.6, 0.8, 3.5, 1.2, 2.4, 4.25, 0.9, 1.7, 0.7, 3.1, 1.3, 3.6, 0.8, 2.2, 1.0, 2.5, 1.4]

# ---------------- condition|study_sd
csd_kx = [-0.22, -0.05, -0.03, -0.01, 0.0, 0.01, 0.02, 0.03, 0.04, 0.06, 0.08, 0.10, 0.12, 0.14, 0.16, 0.18, 0.20, 0.22, 0.25, 0.28, 0.32, 0.36, 0.40, 0.66]
csd_kde_0 = [0, 0, 0.3, 1.8, 3.5, 5.3, 6.8, 7.5, 7.5, 6.0, 4.5, 3.8, 3.75, 3.0, 2.2, 1.5, 1.0, 0.6, 0.35, 0.2, 0.12, 0.05, 0.01, 0]
csd_kde_1 = [0, 0, 0.2, 1.3, 2.8, 4.5, 6.0, 6.8, 6.9, 6.2, 5.1, 4.1, 3.4, 2.8, 2.2, 1.6, 1.1, 0.8, 0.6, 0.35, 0.1, 0.03, 0.01, 0]
csd_tr_0 = [0.15, 0.03, 0.09, 0.01, 0.21, 0.05, 0.45, 0.02, 0.34, 0.07, 0.12, 0.01, 0.33, 0.04, 0.10, 0.02, 0.16, 0.06, 0.01, 0.24,
            0.08, 0.03, 0.18, 0.01, 0.11, 0.05, 0.22, 0.02, 0.14, 0.36, 0.04, 0.09, 0.01, 0.25, 0.06, 0.12, 0.02, 0.17, 0.04, 0.26,
            0.08, 0.01, 0.21, 0.05, 0.13, 0.28, 0.03, 0.10, 0.02, 0.19, 0.06, 0.12, 0.01, 0.22, 0.36, 0.04, 0.30, 0.08, 0.02, 0.16,
            0.05, 0.35, 0.03, 0.12, 0.39, 0.07, 0.02, 0.18, 0.05, 0.10, 0.01, 0.22, 0.04, 0.13, 0.02, 0.25, 0.06, 0.01, 0.15, 0.03,
            0.20, 0.08, 0.02, 0.33, 0.05, 0.11, 0.01, 0.17, 0.04, 0.23, 0.02, 0.12, 0.06, 0.01, 0.19, 0.03, 0.28, 0.05, 0.34, 0.02]
csd_tr_1 = [0.07, 0.26, 0.02, 0.22, 0.10, 0.29, 0.05, 0.20, 0.01, 0.16, 0.08, 0.24, 0.03, 0.12, 0.37, 0.06, 0.18, 0.02, 0.36, 0.09,
            0.04, 0.21, 0.13, 0.02, 0.25, 0.07, 0.17, 0.03, 0.23, 0.11, 0.05, 0.38, 0.09, 0.02, 0.27, 0.06, 0.14, 0.20, 0.04, 0.31,
            0.10, 0.03, 0.26, 0.07, 0.21, 0.12, 0.02, 0.27, 0.08, 0.18, 0.05, 0.25, 0.11, 0.03, 0.22, 0.15, 0.06, 0.30, 0.09, 0.19,
            0.04, 0.24, 0.13, 0.07, 0.37, 0.02, 0.21, 0.11, 0.06, 0.20, 0.03, 0.17, 0.09, 0.24, 0.05, 0.13, 0.02, 0.21, 0.10, 0.28,
            0.06, 0.15, 0.32, 0.04, 0.19, 0.08, 0.25, 0.02, 0.14, 0.07, 0.23, 0.11, 0.03, 0.20, 0.35, 0.06, 0.16, 0.02, 0.27, 0.08]

# ---------------- condition|stimulus_sd
xsd_kx_0 = [-0.55, -0.1, -0.05, 0.0, 0.03, 0.06, 0.1, 0.15, 0.2, 0.3, 0.4, 0.5, 0.6, 0.8, 1.7]
xsd_kde_0 = [0, 0.02, 0.5, 4.0, 6.1, 5.2, 3.0, 1.6, 0.9, 0.4, 0.3, 0.12, 0.05, 0.02, 0]
xsd_kx_1 = [-1.65, -0.1, -0.05, 0.0, 0.03, 0.06, 0.1, 0.15, 0.2, 0.3, 0.4, 0.5, 0.6, 0.8, 1.5, 3.4, 5.0]
xsd_kde_1 = [0, 0.02, 0.3, 2.3, 4.2, 4.7, 3.6, 2.1, 1.1, 0.45, 0.35, 0.15, 0.06, 0.03, 0.02, 0.01, 0]
xsd_tr_0 = [0.12, 0.30, 0.05, 0.15, 0.02, 0.25, 0.08, 0.40, 0.03, 0.18, 0.06, 0.30, 0.10, 0.02, 0.22, 0.35, 0.05, 0.14, 0.04, 0.28,
            1.15, 0.06, 0.20, 0.02, 0.12, 0.08, 0.30, 0.04, 0.16, 0.03, 0.22, 0.07, 0.45, 0.05, 0.12, 0.02, 0.28, 0.09, 0.04, 0.18,
            0.35, 0.06, 0.14, 0.03, 0.25, 0.08, 0.50, 0.04, 0.11, 0.02, 0.20, 0.07, 0.32, 0.05, 0.15, 0.03, 0.42, 0.09, 0.05, 0.55,
            0.12, 0.04, 0.60, 0.08, 0.20, 0.03, 0.35, 0.10, 0.05, 0.25, 0.06, 0.48, 0.12, 0.03, 0.30, 0.08, 0.80, 0.05, 0.18, 0.04,
            0.40, 0.10, 0.62, 0.06, 0.22, 0.03, 0.15, 0.45, 0.07, 0.28, 0.05, 0.18, 0.35, 0.04, 0.14, 0.07, 0.25, 0.03, 0.75, 0.10]
xsd_tr_1 = [0.45, 0.05, 0.20, 0.08, 0.15, 0.02, 0.30, 0.06, 0.18, 0.03, 0.12, 0.25, 0.06, 0.35, 0.90, 3.35, 0.10, 0.05, 0.22, 0.60,
            0.08, 0.18, 0.04, 0.28, 1.00, 0.06, 0.15, 0.03, 0.20, 0.08, 0.12, 0.30, 0.05, 0.18, 0.72, 0.06, 0.22, 0.10, 0.04, 0.16,
            1.40, 0.08, 0.52, 0.05, 0.15, 0.03, 0.25, 0.07, 0.12, 0.30, 0.04, 0.18, 0.08, 0.25, 0.05, 0.14, 0.32, 0.06, 0.10, 0.03,
            0.20, 0.08, 0.15, 0.05, 0.28, 0.04, 1.40, 0.07, 0.18, 0.03, 0.12, 0.25, 0.06, 0.38, 0.05, 0.20, 0.08, 0.15, 0.03, 0.30,
            0.07, 0.18, 0.45, 0.05, 0.12, 0.25, 0.04, 0.40, 0.08, 0.15, 0.05, 0.22, 0.10, 0.06, 0.30, 0.03, 0.48, 1.50, 0.08, 0.18]


def two_chains(kx0, k0, kx1, k1, t0, t1):
    dens = [(kx0, k0, blue), (kx1, k1, orange)]
    trace = [(draws, t0, blue), (draws, t1, orange)]
    return dens, trace


panels = [
    ("Intercept", *two_chains(int_kx, int_kde_0, int_kx, int_kde_1, int_tr_0, int_tr_1)),
    ("age", *two_chains(age_kx, age_kde_0, age_kx, age_kde_1, age_tr_0, age_tr_1)),
    ("gender", *two_chains(gen_kx, gen_kde_0, gen_kx, gen_kde_1, gen_tr_0, gen_tr_1)),
    ("condition", *two_chains(cond_kx_0, cond_kde_0, cond_kx_1, cond_kde_1, cond_tr_0, cond_tr_1)),
    ("1|study", [(study_kx, y, c) for y, c in zip(study_kde, study_kde_colors)],
     [(draws_g, y, c) for y, c in zip(study_tr, study_tr_colors)]),
    ("1|stimulus", [(stim_kx, y, c) for y, c in zip(stim_kde, stim_colors)],
     [(draws_g, y, c) for y, c in zip(stim_tr, stim_colors)]),
    ("condition|study", [(cs_kx, y, c) for y, c in zip(cs_kde, cs_kde_colors)],
     [(draws_g, y, c) for y, c in zip(cs_tr, cs_tr_colors)]),
    ("condition|stimulus", [(cst_kx, y, c) for y, c in zip(cst_kde, stim_colors)],
     [(draws_g, y, c) for y, c in zip(cst_tr, stim_colors)]),
    ("value_sd", *two_chains(vsd_kx, vsd_kde_0, vsd_kx, vsd_kde_1, vsd_tr_0, vsd_tr_1)),
    ("1|stimulus_sd", *two_chains(ssd_kx, ssd_kde_0, ssd_kx, ssd_kde_1, ssd_tr_0, ssd_tr_1)),
    ("condition|study_sd", *two_chains(csd_kx, csd_kde_0, csd_kx, csd_kde_1, csd_tr_0, csd_tr_1)),
    ("condition|stimulus_sd", *two_chains(xsd_kx_0, xsd_kde_0, xsd_kx_1, xsd_kde_1, xsd_tr_0, xsd_tr_1)),
]

fig, axes = plt.subplots(len(panels), 2, figsize=(856 / 72, 1720 / 72), dpi=72)
fig.subplots_adjust(left=49 / 856, right=846 / 856, top=1 - 22 / 1720, bottom=1 - 1676 / 1720,
                    wspace=0.117, hspace=0.356)

for row, (name, dens, trace) in enumerate(panels):
    ax_d, ax_t = axes[row]
    for x, y, c in dens:
        ax_d.plot(x, y, color=c, lw=1.5)
    ax_d.set_title(name)
    ax_d.set_ylabel("Density")
    for x, y, c in trace:
        ax_t.plot(x, y, color=c, lw=1.5)
    ax_t.set_title(name)
    # the original panels carry only about four y ticks
    for ax in (ax_d, ax_t):
        ax.yaxis.set_major_locator(MaxNLocator(nbins=4, steps=[1, 2, 2.5, 5, 10]))

fig.savefig("out.png", dpi=72)
